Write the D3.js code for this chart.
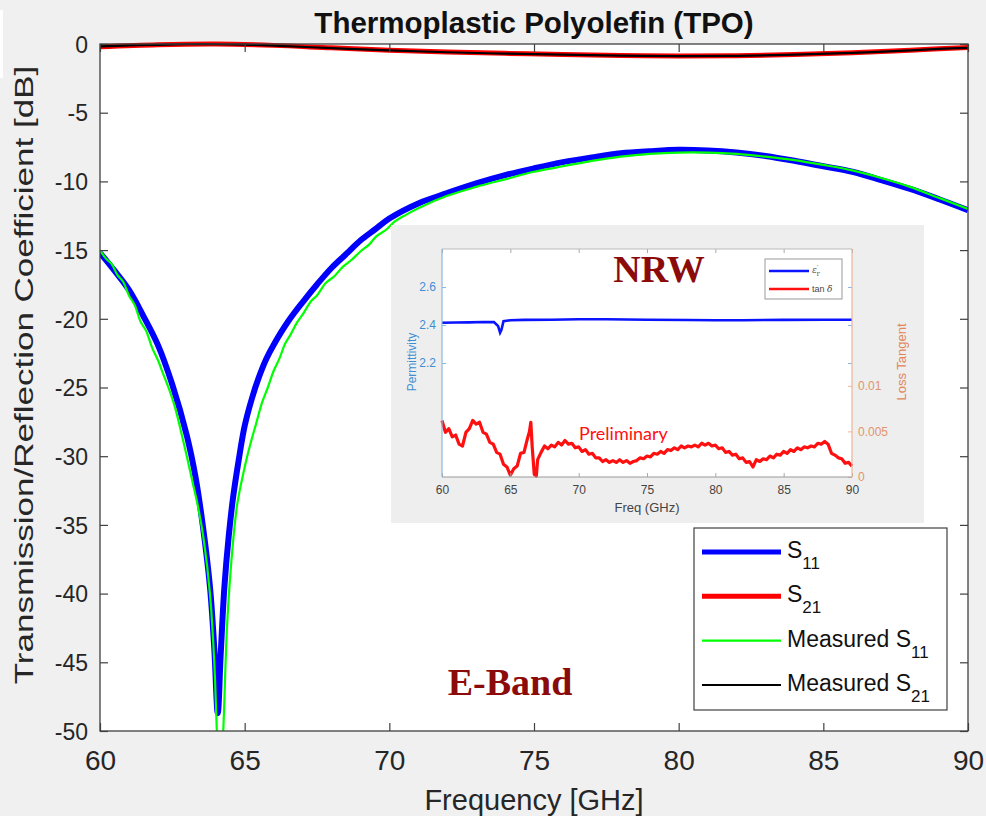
<!DOCTYPE html>
<html>
<head>
<meta charset="utf-8">
<style>
body { margin: 0; background: #f0f0f0; }
svg { display: block; }
text { font-family: "Liberation Sans", Arial, sans-serif; fill: #262626; }
.mainAxis path { display: none; }
.mainAxis line { stroke: #404040; stroke-width: 1.2px; }
.inAxis path { display: none; }
</style>
<title>Thermoplastic Polyolefin (TPO)</title>
</head>
<body>
<script src="https://cdn.jsdelivr.net/npm/d3@7/dist/d3.min.js"></script>
<script>

// ---- main plot: simulated / measured S-parameters (GHz, dB) ----
var s11Freq = [60, 60.5, 61, 61.5, 62, 62.5, 63, 63.3, 63.55, 63.8, 63.95, 64.07, 64.17, 64.3, 64.45, 64.6, 64.8, 65, 65.25, 65.5, 65.75, 66, 66.5, 67, 67.5, 68, 68.5, 69, 69.5, 70, 71, 72, 73, 74, 75, 76, 77, 78, 79, 80, 81, 82, 83, 84, 85, 86, 87, 88, 89, 90];
var s11 = [-15.2, -16.5, -17.9, -19.8, -21.9, -24.8, -28.5, -31.5, -35, -39.5, -44, -48.7, -44.5, -39.5, -35.8, -33.0, -30.2, -27.8, -25.8, -24.2, -22.9, -21.9, -20.2, -18.8, -17.5, -16.3, -15.3, -14.3, -13.5, -12.7, -11.6, -10.85, -10.15, -9.55, -9.05, -8.6, -8.25, -7.95, -7.8, -7.7, -7.75, -7.9, -8.15, -8.5, -8.9, -9.3, -9.9, -10.55, -11.3, -12.1];

var s21Freq = [60, 62, 64, 66, 68, 70, 72, 74, 76, 78, 80, 82, 84, 86, 88, 90];
var s21 = [-0.2, -0.05, 0, -0.1, -0.28, -0.45, -0.58, -0.68, -0.77, -0.84, -0.87, -0.85, -0.77, -0.64, -0.45, -0.25];

var measS11Freq = [60, 60.2, 60.4, 60.6, 60.8, 61, 61.2, 61.4, 61.6, 61.8, 62, 62.2, 62.4, 62.6, 62.8, 63, 63.2, 63.4, 63.6, 63.8, 63.95, 64.05, 64.15, 64.25, 64.4, 64.6, 64.75,
  65, 65.2, 65.4, 65.6, 65.8, 66, 66.2, 66.4, 66.6, 66.8, 67, 67.3, 67.5, 67.8, 68.1, 68.4, 68.7, 69, 69.3, 69.55, 69.9, 70.2, 70.6, 71,
  72, 73, 74, 75, 76, 77, 78, 79, 80, 81, 82, 83, 84, 85, 86, 87, 88, 89, 90];
var measS11 = [-15.0, -15.6, -16.0, -16.8, -17.3, -18.3, -19.0, -20.2, -20.9, -22.1, -23.0, -24.1, -25.2, -26.5, -28.2, -30.0, -31.9, -33.8, -36.3, -40, -45, -50.5, -54, -50.5, -42, -36.2, -33.4,
  -30.8, -29.1, -27.6, -26.1, -25.0, -23.8, -22.9, -21.8, -21.1, -20.3, -19.7, -18.7, -18.3, -17.4, -16.9, -16.2, -15.7, -15.1, -14.6, -14.0, -13.5, -12.9, -12.4, -11.95,
  -11.05, -10.4, -9.85, -9.3, -8.9, -8.5, -8.2, -8.0, -7.9, -7.9, -8.0, -8.2, -8.45, -8.8, -9.2, -9.75, -10.4, -11.2, -12.0];

var measS21Freq = [60, 61, 62, 63, 64, 65, 66, 68, 70, 72, 74, 76, 78, 80, 82, 84, 86, 88, 89, 90];
var measS21 = [-0.18, -0.1, -0.06, -0.02, -0.02, -0.05, -0.12, -0.3, -0.47, -0.6, -0.7, -0.78, -0.85, -0.88, -0.86, -0.78, -0.65, -0.47, -0.36, -0.28];

var xTicks = [60, 65, 70, 75, 80, 85, 90];
var yTicks = [0, -5, -10, -15, -20, -25, -30, -35, -40, -45, -50];

// ---- inset: NRW extraction ----
var permFreq = [60, 61, 62, 63, 63.8, 64.1, 64.25, 64.35, 64.5, 65, 66, 68, 70, 72, 75, 78, 80, 82, 85, 88, 90];
var perm = [2.412, 2.413, 2.414, 2.416, 2.415, 2.395, 2.36, 2.375, 2.42, 2.425, 2.427, 2.428, 2.43, 2.43, 2.428, 2.426, 2.425, 2.425, 2.427, 2.428, 2.428];

var tanFreq = [60, 60.25, 60.5, 60.75, 61, 61.25, 61.5, 61.75, 62, 62.25, 62.5, 62.75, 63, 63.25, 63.5, 63.75, 64, 64.25, 64.5, 64.75,
  65, 65.25, 65.5, 65.75, 66, 66.25, 66.4, 66.5, 66.6, 66.75, 66.9, 67, 67.25, 67.5, 67.75, 68, 68.25, 68.5, 68.75, 69, 69.25, 69.5, 69.75,
  70, 70.25, 70.5, 70.75, 71, 71.25, 71.5, 71.75, 72, 72.25, 72.5, 72.75, 73, 73.25, 73.5, 73.75, 74, 74.25, 74.5, 74.75,
  75, 75.25, 75.5, 75.75, 76, 76.25, 76.5, 76.75, 77, 77.25, 77.5, 77.75, 78, 78.25, 78.5, 78.75, 79, 79.25, 79.5, 79.75,
  80, 80.25, 80.5, 80.75, 81, 81.25, 81.5, 81.75, 82, 82.25, 82.5, 82.75, 83, 83.25, 83.5, 83.75, 84, 84.25, 84.5, 84.75,
  85, 85.25, 85.5, 85.75, 86, 86.25, 86.5, 86.75, 87, 87.25, 87.5, 87.75, 88, 88.25, 88.5, 88.75, 89, 89.25, 89.5, 89.75, 90];
var tanD = [0.0062, 0.0049, 0.0053, 0.0044, 0.0046, 0.0036, 0.0034, 0.0049, 0.0053, 0.0062, 0.0058, 0.0060, 0.0049, 0.0047, 0.0038, 0.0036, 0.0027, 0.0025, 0.0014, 0.0011,
  0.0002, 0.0009, 0.0012, 0.0026, 0.0027, 0.0042, 0.0050, 0.0060, 0.0033, 0.0003, 0.0001, 0.0019, 0.0027, 0.0034, 0.0031, 0.0035, 0.0033, 0.0038, 0.0035, 0.0040, 0.0036, 0.0037, 0.0032,
  0.0033, 0.0028, 0.0030, 0.0025, 0.0026, 0.0021, 0.0021, 0.0017, 0.0019, 0.0016, 0.0018, 0.0016, 0.0019, 0.0016, 0.0018, 0.0015, 0.0017, 0.0018, 0.0021, 0.0020,
  0.0023, 0.0022, 0.0026, 0.0025, 0.0028, 0.0026, 0.0030, 0.0029, 0.0032, 0.0030, 0.0034, 0.0032, 0.0034, 0.0033, 0.0035, 0.0033, 0.0037, 0.0035, 0.0037, 0.0034,
  0.0035, 0.0031, 0.0032, 0.0027, 0.0028, 0.0024, 0.0025, 0.0020, 0.0021, 0.0016, 0.0017, 0.0011, 0.0019, 0.0017, 0.0020, 0.0019, 0.0023, 0.0021, 0.0025, 0.0024,
  0.0028, 0.0026, 0.0030, 0.0028, 0.0032, 0.0030, 0.0033, 0.0032, 0.0034, 0.0033, 0.0037, 0.0036, 0.0039, 0.0036, 0.0026, 0.0024, 0.0021, 0.0020, 0.0015, 0.0016, 0.0012];

var permTicks = [2.2, 2.4, 2.6];
var tanTicks = [0, 0.005, 0.01];

var legendNames = ["S", "S", "Measured S", "Measured S"];
var legendSubs = ["11", "21", "11", "21"];

var width = 986, height = 816;

var svg = d3.select("body").append("svg")
    .attr("width", width)
    .attr("height", height);

svg.append("rect").attr("width", width).attr("height", height).attr("fill", "#f0f0f0");
svg.append("rect").attr("x", 0).attr("y", 10).attr("width", 3).attr("height", 68).attr("fill", "#fff");

var plot = {left: 100, right: 968, top: 44, bottom: 731};

var x = d3.scaleLinear().domain([60, 90]).range([plot.left, plot.right]);
var y = d3.scaleLinear().domain([-50, 0]).range([plot.bottom, plot.top]);

svg.append("rect")
    .attr("x", plot.left).attr("y", plot.top)
    .attr("width", plot.right - plot.left).attr("height", plot.bottom - plot.top)
    .attr("fill", "#fff");

// clip: lets the S21 line spill a little over the top border, cuts the dip at -50
svg.append("clipPath").attr("id", "plotClip")
  .append("rect")
    .attr("x", plot.left).attr("y", plot.top - 10)
    .attr("width", plot.right - plot.left).attr("height", plot.bottom - plot.top + 10);

var line = d3.line()
    .curve(d3.curveCatmullRom.alpha(0.5))
    .x(function(d) { return x(d[0]); })
    .y(function(d) { return y(d[1]); });

var series = [
  {f: s11Freq, v: s11, color: "#0000ff", w: 6},
  {f: s21Freq, v: s21, color: "#ff0000", w: 5},
  {f: measS11Freq, v: measS11, color: "#00ff00", w: 2.2},
  {f: measS21Freq, v: measS21, color: "#000000", w: 2.2}
];

var curves = svg.append("g").attr("clip-path", "url(#plotClip)");
series.forEach(function(s) {
  curves.append("path")
      .datum(d3.zip(s.f, s.v))
      .attr("fill", "none")
      .attr("stroke", s.color)
      .attr("stroke-width", s.w)
      .attr("stroke-linejoin", "round")
      .attr("d", line);
});

// axes (ticks inside, matlab style)
var gx = svg.append("g").attr("class", "mainAxis")
    .attr("transform", "translate(0," + plot.bottom + ")")
    .call(d3.axisBottom(x).tickValues(xTicks).tickSize(-8));
gx.selectAll("text").attr("y", 39).attr("dy", null).style("font-size", "28px");

svg.append("g").attr("class", "mainAxis")
    .attr("transform", "translate(0," + plot.top + ")")
    .call(d3.axisTop(x).tickValues(xTicks).tickSize(-8).tickFormat(""));

var gy = svg.append("g").attr("class", "mainAxis")
    .attr("transform", "translate(" + plot.left + ",0)")
    .call(d3.axisLeft(y).tickValues(yTicks).tickSize(-8).tickPadding(12)
      .tickFormat(function(d) { return String(d); }));
gy.selectAll("text").style("font-size", "23px").attr("dy", "0.36em");

svg.append("g").attr("class", "mainAxis")
    .attr("transform", "translate(" + plot.right + ",0)")
    .call(d3.axisRight(y).tickValues(yTicks).tickSize(-8).tickFormat(""));

svg.append("rect")
    .attr("x", plot.left).attr("y", plot.top)
    .attr("width", plot.right - plot.left).attr("height", plot.bottom - plot.top)
    .attr("fill", "none").attr("stroke", "#404040").attr("stroke-width", 1.3);

// titles
svg.append("text")
    .attr("x", (plot.left + plot.right) / 2).attr("y", 33)
    .attr("text-anchor", "middle")
    .style("font-size", "29.5px").style("font-weight", "bold").style("fill", "#111")
    .text("Thermoplastic Polyolefin (TPO)");

svg.append("text")
    .attr("x", (plot.left + plot.right) / 2).attr("y", 810)
    .attr("text-anchor", "middle")
    .style("font-size", "29px")
    .text("Frequency [GHz]");

svg.append("text")
    .attr("transform", "translate(33,375) rotate(-90) scale(1.4,1)")
    .attr("text-anchor", "middle")
    .style("font-size", "25px")
    .text("Transmission/Reflection Coefficient [dB]");

svg.append("text")
    .attr("x", 510).attr("y", 695)
    .attr("text-anchor", "middle")
    .style("font-family", "'Liberation Serif', 'DejaVu Serif', serif")
    .style("font-size", "38px").style("font-weight", "bold").style("fill", "#8b0a0a")
    .text("E-Band");

// legend
var leg = svg.append("g");
leg.append("rect")
    .attr("x", 694).attr("y", 528).attr("width", 253).attr("height", 182)
    .attr("fill", "#fff").attr("stroke", "#404040").attr("stroke-width", 1.2);
var legY = d3.scalePoint().domain(d3.range(series.length)).range([552, 685]);
series.forEach(function(s, i) {
  leg.append("line")
      .attr("x1", 702).attr("x2", 781)
      .attr("y1", legY(i)).attr("y2", legY(i))
      .attr("stroke", s.color).attr("stroke-width", s.w === 6 ? 5 : s.w);
  var t = leg.append("text")
      .attr("x", 787).attr("y", legY(i) + 6)
      .style("font-size", "23px").style("fill", "#111")
      .text(legendNames[i]);
  t.append("tspan")
      .attr("dy", 11).style("font-size", "17px")
      .text(legendSubs[i]);
});

// ---- inset ----
var inset = svg.append("g");
inset.append("rect")
    .attr("x", 391).attr("y", 225).attr("width", 533).attr("height", 298)
    .attr("fill", "#eeeeee");

var ip = {left: 442, right: 852, top: 249, bottom: 477};
var ix = d3.scaleLinear().domain([60, 90]).range([ip.left, ip.right]);
var iyL = d3.scaleLinear().domain([1.6, 2.8]).range([ip.bottom, ip.top]);
var iyR = d3.scaleLinear().domain([0, 0.025]).range([ip.bottom, ip.top]);

inset.append("rect")
    .attr("x", ip.left).attr("y", ip.top)
    .attr("width", ip.right - ip.left).attr("height", ip.bottom - ip.top)
    .attr("fill", "#fff");

inset.append("path")
    .datum(d3.zip(permFreq, perm))
    .attr("fill", "none").attr("stroke", "#0a14ff").attr("stroke-width", 2.6)
    .attr("d", d3.line().x(function(d) { return ix(d[0]); }).y(function(d) { return iyL(d[1]); }));

inset.append("path")
    .datum(d3.zip(tanFreq, tanD))
    .attr("fill", "none").attr("stroke", "#ff1010").attr("stroke-width", 3.2)
    .attr("stroke-linejoin", "round")
    .attr("d", d3.line().x(function(d) { return ix(d[0]); }).y(function(d) { return iyR(d[1]); }));

var ixb = inset.append("g").attr("class", "inAxis")
    .attr("transform", "translate(0," + ip.bottom + ")")
    .call(d3.axisBottom(ix).tickValues(xTicks).tickSize(-4).tickPadding(8));
ixb.selectAll("line").attr("stroke", "#aaa");
ixb.selectAll("text").style("font-size", "12px").style("fill", "#444");

var ixt = inset.append("g").attr("class", "inAxis")
    .attr("transform", "translate(0," + ip.top + ")")
    .call(d3.axisTop(ix).tickValues(xTicks).tickSize(-4).tickFormat(""));
ixt.selectAll("line").attr("stroke", "#aaa");

var iyl = inset.append("g").attr("class", "inAxis")
    .attr("transform", "translate(" + ip.left + ",0)")
    .call(d3.axisLeft(iyL).tickValues(permTicks).tickSize(-4).tickPadding(6).tickFormat(d3.format(".1f")));
iyl.selectAll("line").attr("stroke", "#8bb8e0");
iyl.selectAll("text").style("font-size", "12px").style("fill", "#3f8ed2");

var iyl2 = inset.append("g").attr("class", "inAxis")
    .attr("transform", "translate(" + ip.right + ",0)")
    .call(d3.axisRight(iyL).tickValues(permTicks).tickSize(-4).tickFormat(""));
iyl2.selectAll("line").attr("stroke", "#8bb8e0");

var iyr = inset.append("g").attr("class", "inAxis")
    .attr("transform", "translate(" + ip.right + ",0)")
    .call(d3.axisRight(iyR).tickValues(tanTicks).tickSize(-4).tickPadding(6).tickFormat(function(d) { return d === 0 ? "0" : String(d); }));
iyr.selectAll("line").attr("stroke", "#eab49a");
iyr.selectAll("text").style("font-size", "12px").style("fill", "#e2946c");

// inset frame
inset.append("line").attr("x1", ip.left).attr("x2", ip.right).attr("y1", ip.top).attr("y2", ip.top).attr("stroke", "#bbb");
inset.append("line").attr("x1", ip.left).attr("x2", ip.right).attr("y1", ip.bottom).attr("y2", ip.bottom).attr("stroke", "#999");
inset.append("line").attr("x1", ip.left).attr("x2", ip.left).attr("y1", ip.top).attr("y2", ip.bottom).attr("stroke", "#8bb8e0").attr("stroke-width", 1.2);
inset.append("line").attr("x1", ip.right).attr("x2", ip.right).attr("y1", ip.top).attr("y2", ip.bottom).attr("stroke", "#eab49a").attr("stroke-width", 1.2);

inset.append("text")
    .attr("x", 647).attr("y", 512).attr("text-anchor", "middle")
    .style("font-size", "13px").style("fill", "#444")
    .text("Freq (GHz)");
inset.append("text")
    .attr("transform", "translate(416,362) rotate(-90)")
    .attr("text-anchor", "middle")
    .style("font-size", "12px").style("fill", "#3f8ed2")
    .text("Permittivity");
inset.append("text")
    .attr("transform", "translate(906,362) rotate(-90)")
    .attr("text-anchor", "middle")
    .style("font-size", "13px").style("fill", "#e2865a")
    .text("Loss Tangent");

inset.append("text")
    .attr("x", 659).attr("y", 282).attr("text-anchor", "middle")
    .style("font-family", "'Liberation Serif', 'DejaVu Serif', serif")
    .style("font-size", "38px").style("font-weight", "bold").style("fill", "#8b0a0a")
    .text("NRW");

inset.append("text")
    .attr("x", 579).attr("y", 440)
    .style("font-family", "Lato, 'Open Sans', sans-serif")
    .style("font-size", "18px").style("fill", "#ff1010")
    .text("Preliminary");

// inset legend
inset.append("rect")
    .attr("x", 765).attr("y", 259).attr("width", 77).attr("height", 40)
    .attr("fill", "#fff").attr("stroke", "#999");
inset.append("line").attr("x1", 769).attr("x2", 809).attr("y1", 271).attr("y2", 271)
    .attr("stroke", "#0a14ff").attr("stroke-width", 2.5);
inset.append("line").attr("x1", 769).attr("x2", 809).attr("y1", 289).attr("y2", 289)
    .attr("stroke", "#ff1010").attr("stroke-width", 2.5);
var eps = inset.append("text").attr("x", 812).attr("y", 273)
    .style("font-family", "'DejaVu Serif', serif").style("font-size", "9px").style("fill", "#555");
eps.append("tspan").style("font-style", "italic").text("\u03b5");
eps.append("tspan").attr("dy", -3).style("font-size", "7px").text("\u2032");
eps.append("tspan").attr("dy", 6).attr("dx", -2).style("font-size", "7px").text("r");
var tn = inset.append("text").attr("x", 812).attr("y", 292)
    .style("font-size", "9px").style("fill", "#444");
tn.append("tspan").text("tan ");
tn.append("tspan").style("font-family", "'DejaVu Serif', serif").style("font-style", "italic").text("\u03b4");

</script>
</body>
</html>
